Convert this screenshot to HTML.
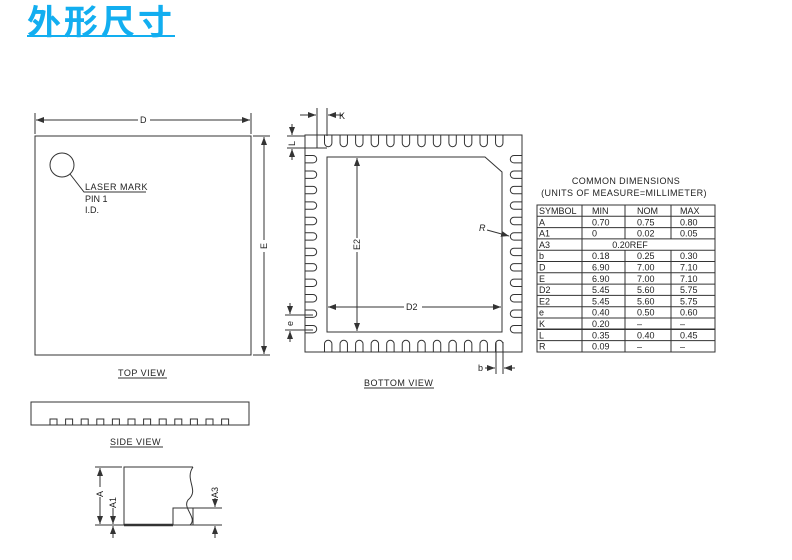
<!DOCTYPE html>
<html><head><meta charset="utf-8"><style>
body{margin:0;background:#fff;width:792px;height:560px;overflow:hidden}
.t{position:absolute;left:27px;top:-3px;font:bold 34px "Noto Sans CJK SC",sans-serif;color:#12aef0;text-decoration:underline;text-decoration-thickness:2px;letter-spacing:3px;line-height:46px}
svg{position:absolute;left:0;top:0}
text{font-family:"Liberation Sans",sans-serif;font-size:9px;fill:#222}
</style></head><body>
<div class="t">外形尺寸</div>
<svg width="792" height="560" viewBox="0 0 792 560">
<defs><marker id="a" markerWidth="8" markerHeight="6" refX="8" refY="3" orient="auto-start-reverse" markerUnits="userSpaceOnUse"><path d="M0,0L8,3L0,6z" fill="#333"/></marker></defs>
<g stroke="#333" stroke-width="1" fill="none">
<rect x="35" y="136" width="216" height="219"/>
<line x1="35" y1="113" x2="35" y2="134"/><line x1="251" y1="113" x2="251" y2="134"/>
<line x1="36" y1="120" x2="138" y2="120" marker-start="url(#a)"/><line x1="150" y1="120" x2="250" y2="120" marker-end="url(#a)"/>
<line x1="253" y1="136" x2="270" y2="136"/><line x1="253" y1="355" x2="270" y2="355"/>
<line x1="264" y1="137" x2="264" y2="240" marker-start="url(#a)"/><line x1="264" y1="252" x2="264" y2="354" marker-end="url(#a)"/>
<circle cx="62" cy="165" r="12"/>
<polyline points="70,174 84,192 146,192"/>
<line x1="118" y1="378" x2="167" y2="378"/>
<rect x="305" y="135" width="217" height="217"/>
<path d="M327,157H485L502,172V332H327Z"/>
<line x1="357" y1="158" x2="357" y2="238" marker-start="url(#a)"/><line x1="357" y1="252" x2="357" y2="331" marker-end="url(#a)"/>
<line x1="328" y1="307" x2="404" y2="307" marker-start="url(#a)"/><line x1="422" y1="307" x2="501" y2="307" marker-end="url(#a)"/>
<line x1="317" y1="108" x2="317" y2="148"/><line x1="327" y1="108" x2="327" y2="136"/>
<line x1="300" y1="115" x2="316" y2="115" marker-end="url(#a)"/><line x1="343" y1="115" x2="328" y2="115" marker-end="url(#a)"/>
<line x1="287" y1="136" x2="305" y2="136"/><line x1="287" y1="148" x2="327" y2="148"/>
<line x1="292" y1="124" x2="292" y2="135" marker-end="url(#a)"/><line x1="292" y1="160" x2="292" y2="149" marker-end="url(#a)"/>
<line x1="285" y1="315" x2="313" y2="315"/><line x1="285" y1="330" x2="313" y2="330"/>
<line x1="290" y1="303" x2="290" y2="314" marker-end="url(#a)"/><line x1="290" y1="342" x2="290" y2="331" marker-end="url(#a)"/>
<line x1="496" y1="342" x2="496" y2="374"/><line x1="503" y1="342" x2="503" y2="374"/>
<line x1="485" y1="368" x2="495" y2="368" marker-end="url(#a)"/><line x1="515" y1="368" x2="504" y2="368" marker-end="url(#a)"/>
<line x1="487" y1="230" x2="509" y2="236" marker-end="url(#a)"/>
<line x1="364" y1="388" x2="434" y2="388"/>
<rect x="537" y="205" width="178" height="147"/>
<line x1="582" y1="205" x2="582" y2="352"/><line x1="671" y1="205" x2="671" y2="239"/><line x1="671" y1="250" x2="671" y2="352"/>
<line x1="625" y1="205" x2="625" y2="239"/><line x1="625" y1="250" x2="625" y2="352"/>
<rect x="31" y="402" width="218" height="23"/>
<line x1="110" y1="447" x2="163" y2="447"/>
<path d="M124,525V467H193"/>
<path d="M193,467C184,480 200,490 188,500C182,508 198,518 190,525" />
<rect x="173" y="508" width="20" height="17"/>
<line x1="193" y1="508" x2="222" y2="508"/>
<line x1="95" y1="467" x2="122" y2="467"/><line x1="95" y1="525" x2="222" y2="525"/>
<line x1="100" y1="468" x2="100" y2="487" marker-start="url(#a)"/><line x1="100" y1="497" x2="100" y2="524" marker-end="url(#a)"/>
<line x1="113" y1="508" x2="113" y2="524" marker-end="url(#a)"/><line x1="113" y1="538" x2="113" y2="526" marker-end="url(#a)"/>
<line x1="215" y1="498" x2="215" y2="507" marker-end="url(#a)"/><line x1="215" y1="538" x2="215" y2="526" marker-end="url(#a)"/>
</g>
<line x1="124" y1="525" x2="173" y2="525" stroke="#333" stroke-width="2.5"/>
<g id="pads" stroke="#333" stroke-width="1" fill="none"></g>
<g fill="#333">
<text x="140" y="123">D</text>
<text x="0" y="0" transform="translate(267,249) rotate(-90)">E</text>
<text x="85" y="190" letter-spacing="0.5">LASER MARK</text><text x="85" y="202">PIN 1</text><text x="85" y="213">I.D.</text>
<text x="118" y="376" letter-spacing="0.5">TOP VIEW</text>
<text x="339" y="119">K</text>
<text x="0" y="0" transform="translate(295,146) rotate(-90)">L</text>
<text x="0" y="0" transform="translate(293,326) rotate(-90)">e</text>
<text x="478" y="371">b</text>
<text x="479" y="231" font-style="italic">R</text>
<text x="0" y="0" transform="translate(360,250) rotate(-90)">E2</text>
<text x="406" y="310">D2</text>
<text x="364" y="386" letter-spacing="0.5">BOTTOM VIEW</text>
<text x="110" y="445" letter-spacing="0.5">SIDE VIEW</text>
<text x="0" y="0" transform="translate(103,497) rotate(-90)">A</text>
<text x="0" y="0" transform="translate(116,508) rotate(-90)">A1</text>
<text x="0" y="0" transform="translate(218,498) rotate(-90)">A3</text>
<text x="626" y="184" text-anchor="middle" letter-spacing="0.4">COMMON DIMENSIONS</text>
<text x="624" y="196" text-anchor="middle" letter-spacing="0.4">(UNITS OF MEASURE=MILLIMETER)</text>
</g>
<g id="tbl" fill="#333"></g>
</svg>
<script>
var p=document.getElementById("pads"),s="";
for(var i=0;i<12;i++){var x=324.5+i*15.55;
s+='<path d="M'+x+',135V143A3.7,3.7 0 0 0 '+(x+7.4)+',143V135"/>';
s+='<path d="M'+x+',352V344A3.7,3.7 0 0 1 '+(x+7.4)+',344V352"/>';
var y=155.5+i*15.45;
s+='<path d="M305,'+y+'H313A3.7,3.7 0 0 1 313,'+(y+7.4)+'H305"/>';
s+='<path d="M522,'+y+'H514A3.7,3.7 0 0 0 514,'+(y+7.4)+'H522"/>';
s+='<rect x="'+(50+i*15.6)+'" y="419" width="7" height="6"/>';}
p.innerHTML=s;
var rows=[["SYMBOL","MIN","NOM","MAX"],["A","0.70","0.75","0.80"],["A1","0","0.02","0.05"],["A3","","0.20REF",""],["b","0.18","0.25","0.30"],["D","6.90","7.00","7.10"],["E","6.90","7.00","7.10"],["D2","5.45","5.60","5.75"],["E2","5.45","5.60","5.75"],["e","0.40","0.50","0.60"],["K","0.20","–","–"],["L","0.35","0.40","0.45"],["R","0.09","–","–"]];
var t="",xs=[539,592,637,680];
for(var r=0;r<rows.length;r++){var y=205+r*11.3;
if(r>0)t+='<line x1="537" x2="715" y1="'+y+'" y2="'+y+'" stroke="#333" stroke-width="'+(r==11?1.5:1)+'"/>';
for(var c=0;c<4;c++)if(rows[r][c])t+='<text x="'+(r==3&&c==2?630:xs[c])+'" y="'+(y+9)+'"'+(r==3&&c==2?' text-anchor="middle"':'')+'>'+rows[r][c]+'</text>';}
document.getElementById("tbl").innerHTML=t;
</script>
</body></html>
